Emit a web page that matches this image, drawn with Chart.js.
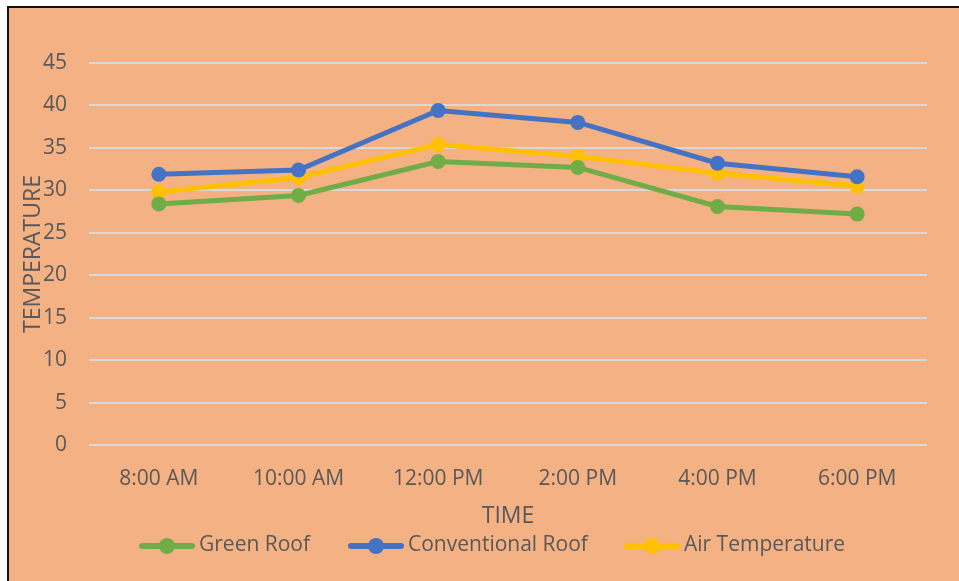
<!DOCTYPE html>
<html lang="en">
  <head>
    <meta charset="UTF-8" />
    <script src="https://cdn.jsdelivr.net/npm/chart.js"></script>
    <title>Roof temperature</title>
    <style>
      body { margin: 0; background: #fff; }
      #frame {
        position: absolute; left: 7px; top: 6px; width: 960px; height: 580px;
        background: #F4B183; border-left: 2px solid #111; border-top: 2px solid #111;
      }
      #wrap { position: absolute; left: 0; top: 0; width: 959px; height: 581px; }
      #legend {
        position: absolute; top: 531px; left: 139px; height: 28px;
        font-family: "Open Sans", sans-serif; font-size: 21px; color: #595959;
        white-space: nowrap;
      }
      .item { position: absolute; top: 0; height: 28px; }
      .swatch { position: absolute; top: 12px; left: 0; width: 56px; height: 6px; border-radius: 3px; }
      .swatch i { position: absolute; left: 20px; top: -5px; width: 16px; height: 16px; border-radius: 50%; background: inherit; }
      .label { position: absolute; left: 60px; top: -2px; }
    </style>
  </head>
  <body>
    <div id="frame"></div>
    <div id="wrap"><canvas id="TempChart" width="959" height="581"></canvas></div>
    <div id="legend"></div>

    <script>
      // data
      const times = ["8:00 AM", "10:00 AM", "12:00 PM", "2:00 PM", "4:00 PM", "6:00 PM"];
      const greenRoof = [28.4, 29.4, 33.4, 32.7, 28.1, 27.2];
      const conventionalRoof = [31.9, 32.4, 39.4, 38.0, 33.2, 31.6];
      const airTemp = [29.8, 31.5, 35.4, 34.0, 32.0, 30.5];

      const names = ["Green Roof", "Conventional Roof", "Air Temperature"];
      const colors = ["#70AD47", "#4472C4", "#FFC000"];
      const series = [greenRoof, conventionalRoof, airTemp];
      const legendX = [0, 209, 485];

      const textColor = "#595959";
      const font = "'Open Sans', sans-serif";

      // html legend (line with a dot in the middle)
      const legend = document.getElementById("legend");
      names.forEach((n, i) => {
        const item = document.createElement("div");
        item.className = "item";
        item.style.left = legendX[i] + "px";
        item.innerHTML = '<span class="swatch" style="background:' + colors[i] + '"><i></i></span><span class="label">' + n + "</span>";
        legend.appendChild(item);
      });

      const ctx = document.getElementById("TempChart").getContext("2d");
      new Chart(ctx, {
        type: "line",
        data: {
          labels: times,
          datasets: series.map((d, i) => ({
            label: names[i],
            data: d,
            borderColor: colors[i],
            backgroundColor: colors[i],
            borderWidth: 5,
            pointRadius: 7.5,
            pointBorderWidth: 0,
            tension: 0
          }))
        },
        options: {
          responsive: false,
          animation: false,
          layout: { padding: { left: 0, top: 63, right: 32, bottom: 46 } },
          plugins: { legend: { display: false }, tooltip: { enabled: false } },
          scales: {
            x: {
              offset: true,
              grid: { display: false, drawTicks: false },
              border: { display: false },
              ticks: { color: textColor, font: { family: font, size: 21 }, padding: 21 },
              // bottom titles use padding.bottom for their offset
              title: { display: true, text: "TIME", color: textColor, font: { family: font, size: 23 }, padding: { top: 0, bottom: 5 } },
              afterFit: (s) => { s.height = 90; }
            },
            y: {
              min: 0,
              max: 45,
              ticks: { stepSize: 5, color: textColor, font: { family: font, size: 21 }, padding: 22 },
              grid: { color: "#D9D9D9", lineWidth: 2, drawTicks: false },
              border: { display: false },
              title: { display: true, text: "TEMPERATURE", color: textColor, font: { family: font, size: 23 }, padding: { top: 20, bottom: 0 } },
              afterFit: (s) => { s.width = 89; }
            }
          }
        }
      });
    </script>
  </body>
</html>
